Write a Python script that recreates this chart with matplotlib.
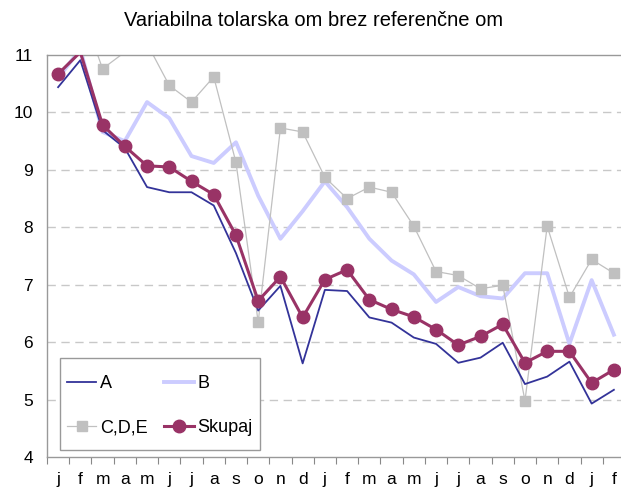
import matplotlib
matplotlib.use("Agg")
import matplotlib.pyplot as plt
from matplotlib.lines import Line2D
from matplotlib.patches import Rectangle
import numpy as np

plt.rcParams['font.family'] = ['Liberation Sans', 'DejaVu Sans']

months = ['j', 'f', 'm', 'a', 'm', 'j', 'j', 'a', 's', 'o', 'n', 'd',
          'j', 'f', 'm', 'a', 'm', 'j', 'j', 'a', 's', 'o', 'n', 'd',
          'j', 'f']

a_vals = [10.44, 10.91, 9.69, 9.38, 8.70, 8.61, 8.61, 8.38, 7.55, 6.55, 6.98, 5.63,
          6.91, 6.89, 6.43, 6.34, 6.08, 5.97, 5.64, 5.73, 5.99, 5.27, 5.40, 5.66,
          4.93, 5.17]
b_vals = [10.60, 11.10, 9.66, 9.50, 10.18, 9.90, 9.24, 9.12, 9.48, 8.55, 7.80, 8.28,
          8.80, 8.35, 7.80, 7.42, 7.18, 6.70, 6.96, 6.80, 6.76, 7.20, 7.20, 5.97,
          7.08, 6.13]
cde_vals = [11.50, 11.85, 10.76, 11.05, 11.20, 10.47, 10.18, 10.62, 9.13, 6.35, 9.73, 9.66,
            8.87, 8.50, 8.70, 8.61, 8.02, 7.23, 7.16, 6.93, 6.99, 4.98, 8.02, 6.78,
            7.44, 7.20]
total_vals = [10.67, 11.05, 9.78, 9.41, 9.07, 9.05, 8.80, 8.57, 7.86, 6.72, 7.14, 6.43,
              7.09, 7.26, 6.74, 6.57, 6.44, 6.22, 5.95, 6.10, 6.31, 5.64, 5.84, 5.84,
              5.29, 5.52]

YMIN, YMAX = 4, 11
x = np.arange(len(months))

styles = {
    'A': dict(color='#333399', lw=1.3),
    'B': dict(color='#CCCCFF', lw=2.8),
    'C,D,E': dict(color='#C0C0C0', lw=0.9, marker='s', ms=7, mec='#C0C0C0', mfc='#C0C0C0'),
    'Skupaj': dict(color='#993366', lw=2.2, marker='o', ms=9),
}

fig = plt.figure(figsize=(6.21, 4.90), dpi=100)
ax = fig.add_axes([47 / 621, 1 - 457 / 490, 578 / 621, 402 / 490])


def in_range(vals):
    # markers are only shown for points inside the value axis
    return [i for i, v in enumerate(vals) if YMIN <= v <= YMAX]


ax.plot(x, a_vals, zorder=3, **styles['A'])
ax.plot(x, b_vals, zorder=2, **styles['B'])
ax.plot(x, cde_vals, markevery=in_range(cde_vals), zorder=2, **styles['C,D,E'])
ax.plot(x, total_vals, markevery=in_range(total_vals), zorder=4, **styles['Skupaj'])

ax.set_xlim(-0.5, len(months) - 0.5)
ax.set_ylim(YMIN, YMAX)
ax.set_yticks(range(YMIN, YMAX + 1))
ax.set_xticks(x)
ax.set_xticklabels(months)
ax.set_xticks(np.arange(-0.5, len(months), 1), minor=True)
ax.tick_params(axis='x', which='major', length=0, pad=11, labelsize=12.5)
ax.tick_params(axis='x', which='minor', length=5, color='#888888', width=0.8)
ax.tick_params(axis='y', length=0, pad=10, labelsize=12.5)

for v in range(YMIN + 1, YMAX):
    ax.axhline(v, color='#C8C8C8', lw=1, ls=(0, (6, 4)), zorder=1)

for s in ax.spines.values():
    s.set_color('#999999')
    s.set_linewidth(1)

# legend box: white panel with a grey border, entries laid out in two columns
ax.add_patch(Rectangle((0.0225, 0.0174), 0.346, 0.229, transform=ax.transAxes,
                       facecolor='white', edgecolor='#999999', lw=1, zorder=5))
order = ['A', 'C,D,E', 'B', 'Skupaj']
handles = [Line2D([], [], **styles[k]) for k in order]
leg = ax.legend(handles, order, ncol=2,
                loc='lower left', bbox_to_anchor=(0.034, 0.051),
                fontsize=13, frameon=False,
                labelspacing=1.5, columnspacing=0.9, handlelength=1.65,
                handletextpad=0.2, borderpad=0, borderaxespad=0)
leg.set_zorder(6)

fig.text(0.505, 0.958, 'Variabilna tolarska om brez referenčne om',
         ha='center', va='center', fontsize=14.5)

fig.savefig('out.png', dpi=100)
